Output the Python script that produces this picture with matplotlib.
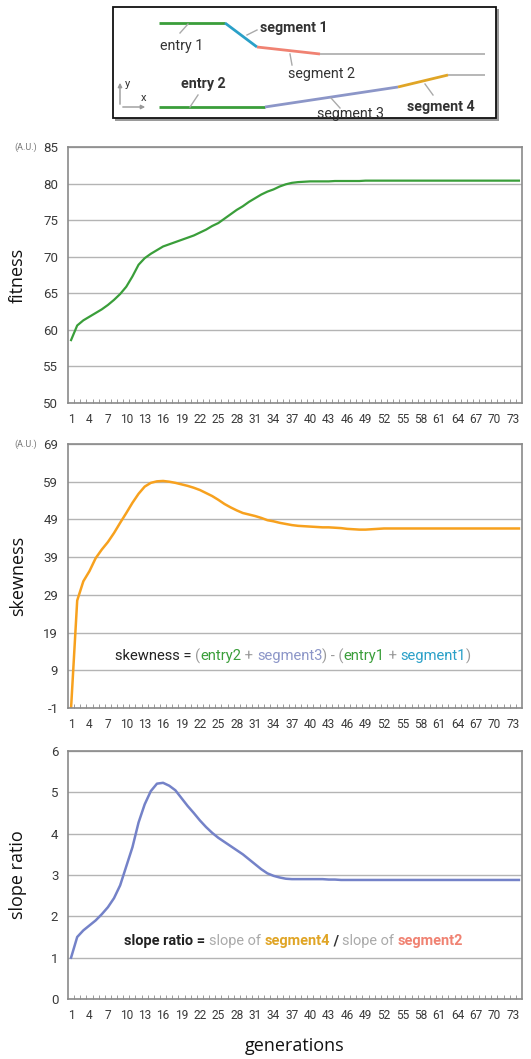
import numpy as np
import matplotlib
matplotlib.use("Agg")
import matplotlib.pyplot as plt
from matplotlib.patches import Rectangle

# --- data ---
generations = list(range(1, 75))

fitness = [58.6, 60.6, 61.3, 61.8, 62.3, 62.8, 63.4, 64.1, 64.9, 65.9,
           67.3, 68.9, 69.8, 70.4, 70.9, 71.4, 71.7, 72.0, 72.3, 72.6,
           72.9, 73.3, 73.7, 74.2, 74.6, 75.2, 75.8, 76.4, 76.9, 77.5,
           78.0, 78.5, 78.9, 79.2, 79.6, 79.9, 80.1, 80.2, 80.25, 80.3,
           80.3, 80.3, 80.3, 80.35, 80.35, 80.35, 80.35, 80.35, 80.4, 80.4,
           80.4, 80.4, 80.4, 80.4, 80.4, 80.4, 80.4, 80.4, 80.4, 80.4,
           80.4, 80.4, 80.4, 80.4, 80.4, 80.4, 80.4, 80.4, 80.4, 80.4,
           80.4, 80.4, 80.4, 80.4]

skewness = [-1.0, 27.5, 32.6, 35.3, 38.7, 41.0, 43.0, 45.4, 48.1, 50.7,
            53.4, 55.8, 57.7, 58.7, 59.1, 59.2, 59.0, 58.7, 58.3, 57.9,
            57.4, 56.8, 56.0, 55.2, 54.2, 53.1, 52.2, 51.4, 50.7, 50.3,
            49.9, 49.4, 48.8, 48.5, 48.1, 47.8, 47.5, 47.3, 47.2, 47.1,
            47.0, 46.9, 46.9, 46.8, 46.7, 46.5, 46.4, 46.3, 46.3, 46.4,
            46.5, 46.6, 46.6, 46.6, 46.6, 46.6, 46.6, 46.6, 46.6, 46.6,
            46.6, 46.6, 46.6, 46.6, 46.6, 46.6, 46.6, 46.6, 46.6, 46.6,
            46.6, 46.6, 46.6, 46.6]

slope_ratio = [1.0, 1.5, 1.66, 1.78, 1.9, 2.05, 2.22, 2.44, 2.75, 3.21,
               3.67, 4.27, 4.71, 5.03, 5.21, 5.23, 5.16, 5.05, 4.86, 4.67,
               4.5, 4.32, 4.16, 4.02, 3.9, 3.8, 3.7, 3.6, 3.5, 3.38,
               3.26, 3.14, 3.04, 2.98, 2.94, 2.91, 2.9, 2.9, 2.9, 2.9,
               2.9, 2.9, 2.89, 2.89, 2.88, 2.88, 2.88, 2.88, 2.88, 2.88,
               2.88, 2.88, 2.88, 2.88, 2.88, 2.88, 2.88, 2.88, 2.88, 2.88,
               2.88, 2.88, 2.88, 2.88, 2.88, 2.88, 2.88, 2.88, 2.88, 2.88,
               2.88, 2.88, 2.88, 2.88]

fitness_ticks = [50, 55, 60, 65, 70, 75, 80, 85]
skewness_ticks = [-1, 9, 19, 29, 39, 49, 59, 69]
slope_ticks = [0, 1, 2, 3, 4, 5, 6]
x_ticks = list(range(1, 74, 3))

GREEN = "#3a9e3a"
ORANGE = "#f7a11e"
PURPLE = "#7482c8"
TEAL = "#2aa0c8"
SALMON = "#f08272"
LAVENDER = "#8c96c8"
GOLD = "#e0a526"
GRAY = "#9a9a9a"

plt.rcParams["font.family"] = ["Roboto", "DejaVu Sans"]
plt.rcParams["axes.unicode_minus"] = False

W, H = 531, 1059
fig = plt.figure(figsize=(W / 100, H / 100), dpi=100)


def px_axes(left, top, right, bottom):
    return fig.add_axes([left / W, 1 - bottom / H, (right - left) / W, (bottom - top) / H])


def style(ax, ticks, label, au=False):
    ax.set_xlim(0.5, 74.5)
    ax.set_ylim(ticks[0], ticks[-1])
    ax.set_yticks(ticks)
    ax.set_xticks(x_ticks)
    ax.set_xticks(np.arange(1.5, 74, 1), minor=True)
    ax.grid(axis="y", color="#b4b4b4", lw=1)
    ax.set_axisbelow(True)
    for s in ax.spines.values():
        s.set_color("#8a8a8a")
        s.set_linewidth(1.2)
    ax.tick_params(axis="y", length=0, pad=7, labelsize=9.5, colors="#3a3a3a")
    ax.tick_params(axis="x", which="major", length=0, pad=7, labelsize=8.6, colors="#3a3a3a")
    ax.tick_params(axis="x", which="minor", direction="in", length=3, color="#8a8a8a")
    ax.set_ylabel(label, fontsize=13, family="Open Sans", color="#111")
    ax.yaxis.set_label_coords(-0.09, 0.5)
    if au:
        ax.text(-0.068, 1.0, "(A.U.)", transform=ax.transAxes, ha="right", va="center",
                fontsize=6.5, color="#777")


ax1 = px_axes(68, 147, 522, 403)
ax1.plot(generations, fitness, color=GREEN, lw=1.6)
style(ax1, fitness_ticks, "fitness", au=True)

ax2 = px_axes(68, 444, 522, 708)
ax2.plot(generations, skewness, color=ORANGE, lw=1.8)
style(ax2, skewness_ticks, "skewness", au=True)

ax3 = px_axes(68, 751, 522, 999)
ax3.plot(generations, slope_ratio, color=PURPLE, lw=1.8)
style(ax3, slope_ticks, "slope ratio")
ax3.set_xlabel("generations", fontsize=13, family="Open Sans", color="#111")
ax3.xaxis.set_label_coords(0.5, -0.155)

renderer = fig.canvas.get_renderer()


def color_text(x0, x1, cy, pieces, size=10):
    # pieces: (text, color, weight); spread over pixels x0..x1 at row cy (from top)
    texts = [fig.text(0, 1 - cy / H, s, color=c, fontsize=size, weight=w, va="center")
             for s, c, w in pieces]
    total = sum(t.get_window_extent(renderer).width for t in texts)
    scale = (x1 - x0) / total
    for t in texts:
        t.set_fontsize(size * scale)
    x = x0
    for t in texts:
        t.set_x(x / W)
        x += t.get_window_extent(renderer).width


color_text(115, 473, 656, [("skewness = ", "#222", "normal"), ("(", GRAY, "normal"),
                           ("entry2", GREEN, "normal"), (" + ", GRAY, "normal"),
                           ("segment3", LAVENDER, "normal"), (") - (", GRAY, "normal"),
                           ("entry1", GREEN, "normal"), (" + ", GRAY, "normal"),
                           ("segment1", TEAL, "normal"), (")", GRAY, "normal")])
color_text(124, 463, 941, [("slope ratio = ", "#222", "bold"), ("slope of ", "#aaa", "normal"),
                           ("segment4", GOLD, "bold"), (" / ", "#333", "bold"),
                           ("slope of ", "#aaa", "normal"), ("segment2", SALMON, "bold")])

# --- schematic at the top, drawn in pixel coordinates ---
axd = fig.add_axes([0, 1 - 125 / H, 1, 125 / H])
axd.set_xlim(0, W)
axd.set_ylim(125, 0)
axd.axis("off")
axd.add_patch(Rectangle((115, 9), 384, 112, facecolor="#9a9a9a", edgecolor="none"))
axd.add_patch(Rectangle((113, 7), 383, 111, facecolor="white", edgecolor="#111", lw=1.3))

line1_x = [159, 225, 257, 320, 485]
line1_y = [23, 23, 47, 54, 54]
line1_c = [GREEN, TEAL, SALMON, "#aaaaaa"]
line2_x = [159, 265, 398, 448, 485]
line2_y = [107, 107, 87, 75, 75]
line2_c = [GREEN, LAVENDER, GOLD, "#aaaaaa"]
for xs, ys, cs in [(line1_x, line1_y, line1_c), (line2_x, line2_y, line2_c)]:
    for i, c in enumerate(cs):
        axd.plot(xs[i:i + 2], ys[i:i + 2], color=c, lw=2 if c != "#aaaaaa" else 1.2,
                 solid_capstyle="butt")

labels = [("segment 1", 260, 28, "bold"), ("entry 1", 160, 46, "normal"),
          ("segment 2", 288, 74, "normal"), ("entry 2", 181, 84, "bold"),
          ("segment 3", 317, 114, "normal"), ("segment 4", 407, 107, "bold")]
for s, x, y, w in labels:
    axd.text(x, y, s, fontsize=10.3, color="#333", weight=w, ha="left", va="center")

leaders = [((180, 33), (188, 24)), ((257, 30), (247, 35)), ((292, 65), (290, 54)),
           ((190, 107), (198, 95)), ((340, 108), (331, 98)), ((433, 95), (425, 84))]
for (x0, y0), (x1, y1) in leaders:
    axd.plot([x0, x1], [y0, y1], color="#aaaaaa", lw=1)

axd.annotate("", xy=(120, 80), xytext=(120, 107),
             arrowprops=dict(arrowstyle="-|>", color="#999", lw=1, mutation_scale=6))
axd.annotate("", xy=(148, 107), xytext=(120, 107),
             arrowprops=dict(arrowstyle="-|>", color="#999", lw=1, mutation_scale=6))
axd.text(125, 84, "y", fontsize=8, color="#333", va="center")
axd.text(141, 98, "x", fontsize=8, color="#333", va="center")

fig.savefig("out.png", dpi=100)
